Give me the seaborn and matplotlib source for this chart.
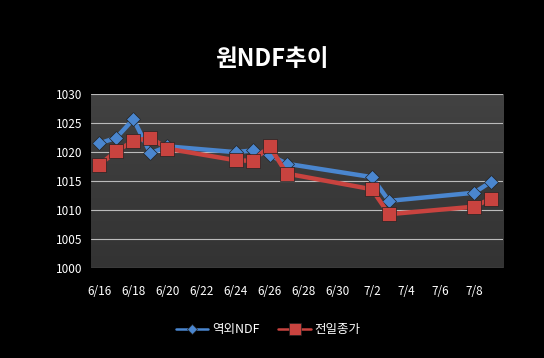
import numpy as np
import pandas as pd
import matplotlib
matplotlib.use("Agg")
import matplotlib.pyplot as plt
import matplotlib.dates as mdates
from matplotlib.ticker import FuncFormatter
import seaborn as sns

# data
dates = ["2013-06-16", "2013-06-17", "2013-06-18", "2013-06-19", "2013-06-20",
         "2013-06-24", "2013-06-25", "2013-06-26", "2013-06-27",
         "2013-07-02", "2013-07-03", "2013-07-08", "2013-07-09"]
ndf = [1021.5, 1022.5, 1025.7, 1019.8, 1021.0,
       1020.0, 1020.3, 1019.5, 1018.0,
       1015.7, 1011.6, 1013.0, 1014.9]
close = [1017.8, 1020.2, 1021.9, 1022.5, 1020.6,
         1018.6, 1018.5, 1021.0, 1016.3,
         1013.6, 1009.3, 1010.6, 1012.0]
series_names = ["역외NDF", "전일종가"]
colors = ["#4a86cf", "#c9433f"]

df = pd.DataFrame({
    "date": pd.to_datetime(dates).tolist() * 2,
    "value": ndf + close,
    "series": [series_names[0]] * len(ndf) + [series_names[1]] * len(close),
})

sns.set_style("dark")
plt.rcParams["font.family"] = ["Noto Sans CJK KR", "DejaVu Sans"]

fig = plt.figure(figsize=(5.44, 3.58), dpi=100, facecolor="black")
ax = fig.add_axes([0.167, 0.251, 0.758, 0.486])

# gradient plot background
grad = np.linspace(0, 1, 256).reshape(-1, 1)
ax.imshow(grad, extent=[0, 1, 0, 1], transform=ax.transAxes, aspect="auto",
          cmap=matplotlib.colors.LinearSegmentedColormap.from_list("g", ["#333333", "#424242"]),
          origin="lower", zorder=0)

sns.lineplot(data=df, x="date", y="value", hue="series", style="series",
             palette=colors, markers=["D", "s"], dashes=False,
             linewidth=3.2, markersize=8, markeredgewidth=0.5,
             markeredgecolor="#222222", ax=ax, zorder=3)
for line, ms in zip(ax.get_lines(), [7.5, 10]):
    line.set_markersize(ms)

ax.set_xlim(pd.Timestamp("2013-06-15 12:00"), pd.Timestamp("2013-07-09 17:00"))
ax.set_ylim(1000, 1030)
ax.set_yticks(range(1000, 1031, 5))
ticks = pd.date_range("2013-06-16", "2013-07-08", freq="2D")
ax.set_xticks(ticks)
ax.xaxis.set_major_formatter(FuncFormatter(lambda v, p: f"{mdates.num2date(v).month}/{mdates.num2date(v).day}"))
ax.tick_params(colors="white", labelsize=8.5, length=0, pad=12)
ax.tick_params(axis="y", pad=6)
ax.grid(axis="y", color="#bbbbbb", linewidth=0.8)
ax.grid(axis="x", visible=False)
for s in ax.spines.values():
    s.set_visible(False)
ax.set_xlabel("")
ax.set_ylabel("")

fig.suptitle("원NDF추이", color="white", fontsize=17, fontweight="bold", y=0.87)

leg = ax.legend(loc="upper center", bbox_to_anchor=(0.43, -0.25), ncol=2,
                frameon=False, fontsize=9, labelcolor="white",
                handlelength=2.6, columnspacing=1.5, handletextpad=0.3)
for h, ms in zip(leg.legend_handles, [5, 8]):
    h.set_markersize(ms)
    h.set_linewidth(1.8)

fig.savefig("out.png", dpi=100, facecolor="black")
